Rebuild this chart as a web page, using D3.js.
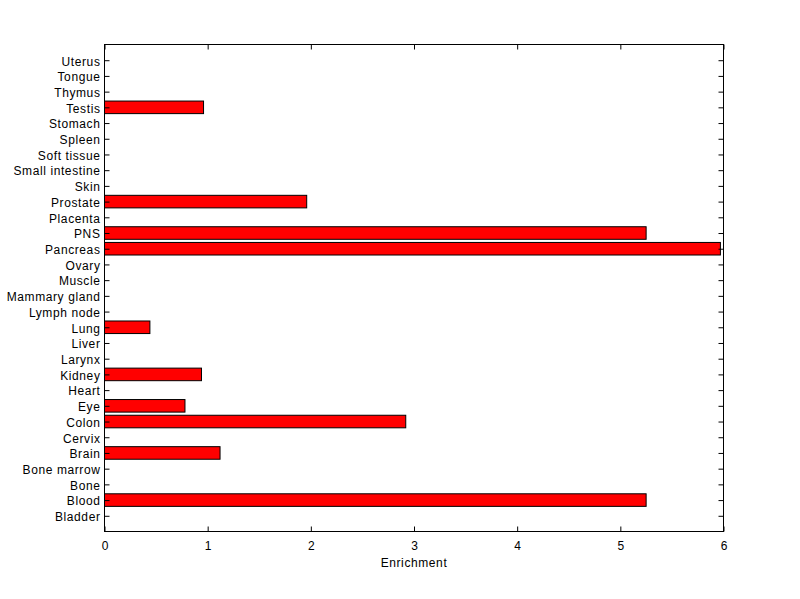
<!DOCTYPE html>
<html><head><meta charset="utf-8">
<script src="https://cdn.jsdelivr.net/npm/d3@7"></script>
<style>body{margin:0;background:#fff}svg{display:block}</style>
</head><body>
<script>
const categories = ["Bladder","Blood","Bone","Bone marrow","Brain","Cervix","Colon","Eye","Heart","Kidney","Larynx","Liver","Lung","Lymph node","Mammary gland","Muscle","Ovary","Pancreas","PNS","Placenta","Prostate","Skin","Small intestine","Soft tissue","Spleen","Stomach","Testis","Thymus","Tongue","Uterus"];
const values = [0,5.25,0,0,1.12,0,2.92,0.78,0,0.94,0,0,0.44,0,0,0,0,5.97,5.25,0,1.96,0,0,0,0,0,0.96,0,0,0];
const xTicks = [0,1,2,3,4,5,6];
const xLabel = "Enrichment";

const W=800,H=599;
const L=104.5,R=723.5,T=44.5,B=531.5;
const svg=d3.select("body").append("svg").attr("width",W).attr("height",H)
  .style("font-family","'Liberation Sans', Arial, sans-serif");
const x=d3.scaleLinear().domain([0,6]).range([L,R]);
const y=d3.scaleLinear().domain([0,categories.length+1]).range([B,T]);
const bw=(y(0)-y(0.8));

// bars
svg.append("g").selectAll("rect").data(categories.map((c,i)=>({c,v:values[i],i}))).join("rect")
  .filter(d=>d.v>0)
  .attr("x",x(0)).attr("y",d=>y(d.i+1)-bw/2)
  .attr("width",d=>x(d.v)-x(0)).attr("height",bw)
  .attr("fill","#ff0000").attr("stroke","#000").attr("stroke-width",1);

// box
svg.append("rect").attr("x",L).attr("y",T).attr("width",R-L).attr("height",B-T)
  .attr("fill","none").attr("stroke","#000").attr("stroke-width",1);

// y axis
const yAx=d3.axisLeft(y).tickValues(d3.range(1,categories.length+1))
  .tickFormat(d=>categories[d-1]).tickSizeInner(-5).tickSizeOuter(0).tickPadding(4);
const gy=svg.append("g").attr("transform",`translate(${L},0)`).call(yAx);
gy.select(".domain").remove();
gy.selectAll("text").attr("x",-4).attr("dy","0.4em").attr("font-size",12)
  .attr("letter-spacing","0.6px").attr("fill","#000");
const gyr=svg.append("g").attr("transform",`translate(${R},0)`)
  .call(d3.axisRight(y).tickValues(d3.range(1,categories.length+1)).tickSizeInner(-5).tickSizeOuter(0).tickFormat(""));
gyr.select(".domain").remove();

// x axis
const gx=svg.append("g").attr("transform",`translate(0,${B})`)
  .call(d3.axisBottom(x).tickValues(xTicks).tickFormat(d3.format("d")).tickSizeInner(-5).tickSizeOuter(0).tickPadding(4));
gx.select(".domain").remove();
gx.selectAll("text").attr("y",10).attr("font-size",12).attr("fill","#000");
const gxt=svg.append("g").attr("transform",`translate(0,${T})`)
  .call(d3.axisTop(x).tickValues(xTicks).tickSizeInner(-5).tickSizeOuter(0).tickFormat(""));
gxt.select(".domain").remove();

svg.append("text").attr("x",(L+R)/2).attr("y",567).attr("text-anchor","middle")
  .attr("font-size",12).attr("letter-spacing","0.6px").text(xLabel);
</script>
</body></html>
